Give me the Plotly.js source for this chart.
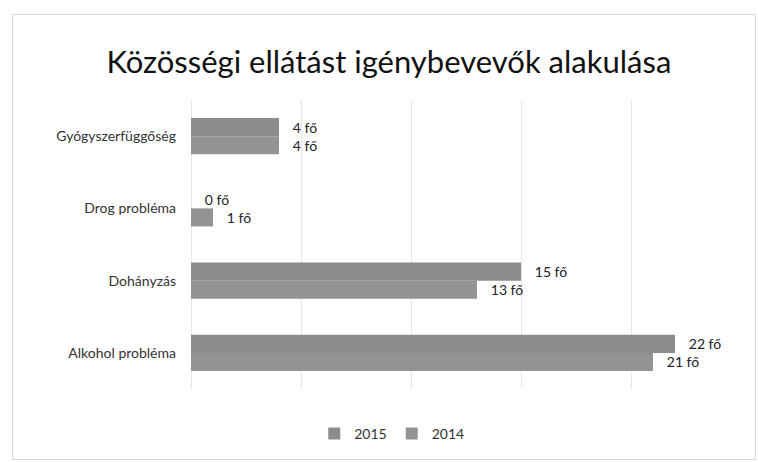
<!DOCTYPE html>
<html>
<head>
<meta charset="utf-8">
<script src="https://cdn.plot.ly/plotly-3.0.1.min.js"></script>
<style>
html,body{margin:0;padding:0;background:#fff;}
#frame{position:absolute;left:12px;top:14px;width:744px;height:446px;border:1px solid #d9d9d9;box-sizing:border-box;}
#chart{position:absolute;left:0;top:0;width:758px;height:462px;}
</style>
</head>
<body>
<div id="frame"></div>
<div id="chart"></div>
<script>
var categories = ["Gyógyszerfüggőség", "Drog probléma", "Dohányzás", "Alkohol probléma"];
var values2015 = [4, 0, 15, 22];
var values2014 = [4, 1, 13, 21];
var seriesNames = ["2015", "2014"];
var unit = " fő";

var font = "Lato, 'Liberation Sans', sans-serif";

var traces = [
  {type:"bar", orientation:"h", name:seriesNames[0], y:categories, x:values2015,
   texttemplate:"   %{x}" + unit, textposition:"outside", cliponaxis:false,
   textfont:{family:font, size:14, color:"#222"},
   marker:{color:"#8c8c8c"}, hoverinfo:"x+y"},
  {type:"bar", orientation:"h", name:seriesNames[1], y:categories, x:values2014,
   texttemplate:"   %{x}" + unit, textposition:"outside", cliponaxis:false,
   textfont:{family:font, size:14, color:"#222"},
   marker:{color:"#939393"}, hoverinfo:"x+y"}
];

var layout = {
  width:758, height:462,
  paper_bgcolor:"rgba(0,0,0,0)", plot_bgcolor:"rgba(0,0,0,0)",
  margin:{l:191, r:17, t:100, b:66},
  title:{text:"Közösségi ellátást igénybevevők alakulása", x:0.513, xanchor:"center", y:0.865, yanchor:"middle",
         font:{family:font, size:31, color:"#111"}},
  barmode:"group", bargap:0.5, bargroupgap:0,
  xaxis:{range:[0,25], dtick:5, showticklabels:false, showgrid:true, gridcolor:"#e6e6e6", gridwidth:1,
         zeroline:true, zerolinecolor:"#e6e6e6", showline:false, ticks:""},
  yaxis:{type:"category", autorange:"reversed", showgrid:false, zeroline:false, showline:false, ticks:"",
         ticklabelstandoff:14,
         tickfont:{family:font, size:14, color:"#333"}},
  legend:{orientation:"h", x:0.365, xanchor:"center", y:-0.1, yanchor:"top",
          font:{family:font, size:14, color:"#333"},
          itemwidth:30, traceorder:"normal"},
  showlegend:true
};

Plotly.newPlot("chart", traces, layout, {displayModeBar:false, staticPlot:true});
</script>
</body>
</html>
